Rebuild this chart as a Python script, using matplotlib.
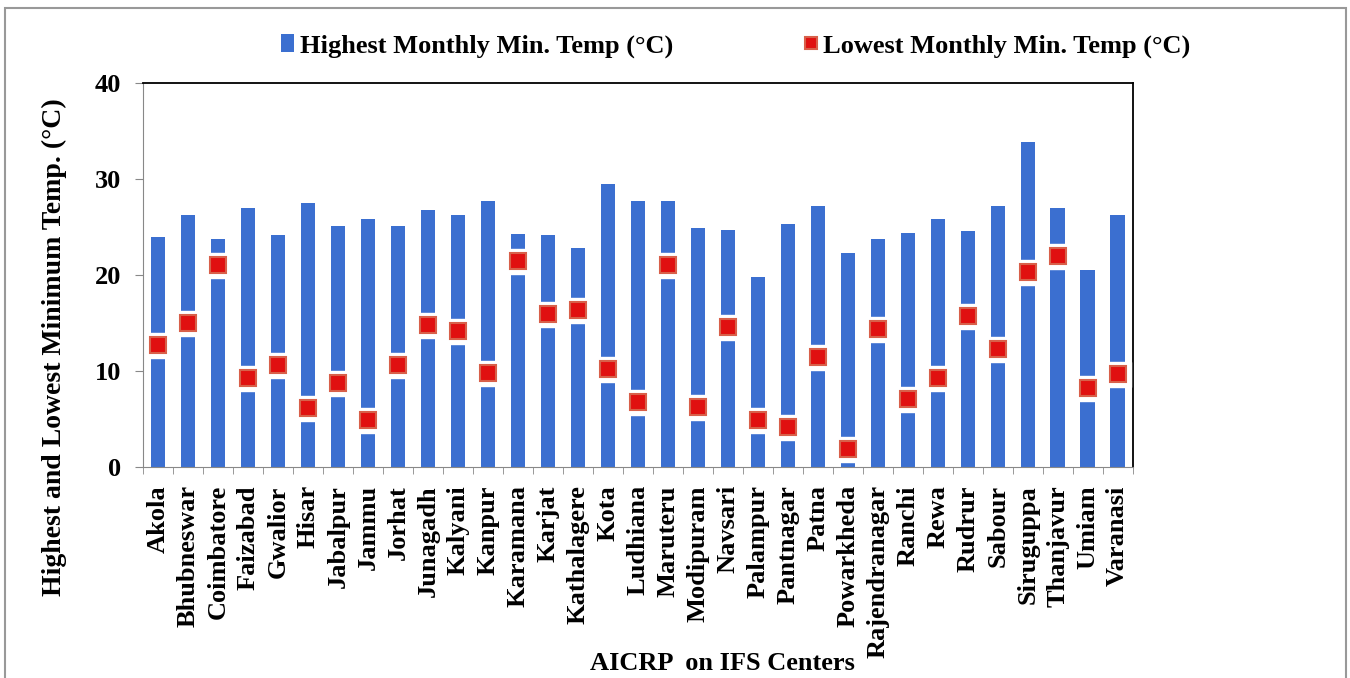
import matplotlib.pyplot as plt
from matplotlib.patches import Rectangle
import numpy as np

plt.rcParams['font.family'] = ['Liberation Serif', 'DejaVu Serif']

# centres and temperatures
centros = ["Akola", "Bhubneswar", "Coimbatore", "Faizabad", "Gwalior", "Hisar",
           "Jabalpur", "Jammu", "Jorhat", "Junagadh", "Kalyani", "Kanpur",
           "Karamana", "Karjat", "Kathalagere", "Kota", "Ludhiana", "Maruteru",
           "Modipuram", "Navsari", "Palampur", "Pantnagar", "Patna", "Powarkheda",
           "Rajendranagar", "Ranchi", "Rewa", "Rudrur", "Sabour", "Siruguppa",
           "Thanjavur", "Umiam", "Varanasi"]
temp_max = [24.0, 26.3, 23.8, 27.0, 24.2, 27.5, 25.1, 25.8, 25.1, 26.8, 26.3, 27.7,
            24.3, 24.2, 22.8, 29.5, 27.7, 27.7, 24.9, 24.7, 19.8, 25.3, 27.2, 22.3,
            23.8, 24.4, 25.8, 24.6, 27.2, 33.9, 27.0, 20.5, 26.3]
temp_min = [12.7, 15.0, 21.0, 9.3, 10.6, 6.2, 8.8, 4.9, 10.6, 14.8, 14.2, 9.8,
            21.5, 15.9, 16.4, 10.2, 6.8, 21.0, 6.3, 14.6, 4.9, 4.2, 11.5, 1.9,
            14.4, 7.1, 9.3, 15.7, 12.3, 20.3, 22.0, 8.2, 9.7]

fig = plt.figure(figsize=(13.5, 6.78), dpi=100)
ax = fig.add_axes([0.106, 0.311, 0.733, 0.5666])

x = np.arange(len(centros))
barras = ax.bar(x, temp_max, width=0.48, color='#3b6fd0', zorder=2)
# white gap around the red marker
ax.plot(x, temp_min, linestyle='none', marker='s', markersize=18,
        markerfacecolor='white', markeredgecolor='white', zorder=3)
pontos, = ax.plot(x, temp_min, linestyle='none', marker='s', markersize=11.5,
                  markerfacecolor='#e01010', markeredgecolor='#d8604a',
                  markeredgewidth=1.5, zorder=4)

ax.set_xlim(-0.5, len(centros) - 0.5)
ax.set_ylim(0, 40)
ax.set_yticks([0, 10, 20, 30, 40])
ax.set_xticks(x)
ax.set_xticklabels(centros, rotation=90, fontsize=19, fontweight='bold')
ax.set_xticks(np.arange(-0.5, len(centros)), minor=True)
ax.tick_params(axis='x', which='major', length=0, pad=13)
ax.tick_params(axis='x', which='minor', length=5, color='#888888')
ax.tick_params(axis='y', labelsize=19, length=6, color='#888888', pad=10)
for lab in ax.get_yticklabels():
    lab.set_fontweight('bold')

ax.spines['left'].set_color('#888888')
ax.spines['bottom'].set_color('#888888')
ax.spines['top'].set_color('black')
ax.spines['right'].set_color('black')
ax.spines['top'].set_linewidth(1.3)
ax.spines['right'].set_linewidth(1.3)

fig.text(0.040, 0.488, 'Highest and Lowest Minimum Temp. (\u00b0C)', fontsize=20,
         fontweight='bold', rotation=90, ha='center', va='center')
fig.text(0.535, 0.005, 'AICRP  on IFS Centers', fontsize=19, fontweight='bold',
         ha='center', va='bottom')

fig.legend([barras, pontos],
           ['Highest Monthly Min. Temp (\u00b0C)', 'Lowest Monthly Min. Temp (\u00b0C)'],
           loc='upper center', bbox_to_anchor=(0.545, 0.985), ncol=2, frameon=False,
           prop={'weight': 'bold', 'size': 19}, handlelength=0.5,
           handletextpad=0.2, columnspacing=5.0, markerscale=0.8)

# outer grey frame
fig.patches.append(Rectangle((0.004, -0.01), 0.993, 0.998, transform=fig.transFigure,
                             fill=False, edgecolor='#999999', linewidth=1.5))

plt.savefig('out.png', dpi=100)
